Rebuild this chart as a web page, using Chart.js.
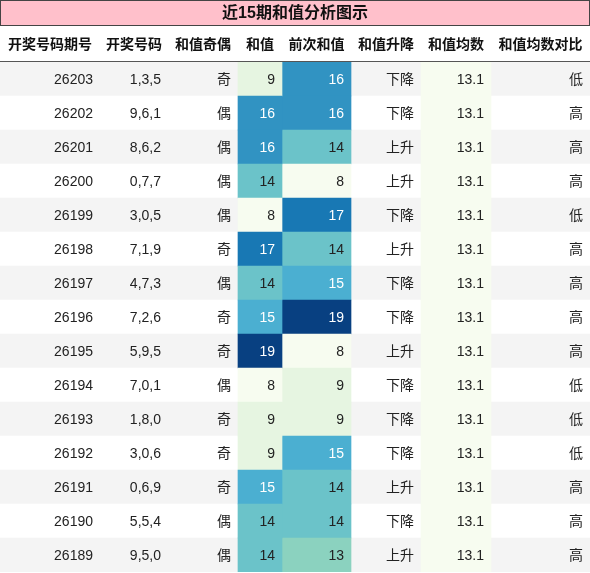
<!DOCTYPE html>
<html><head><meta charset="utf-8">
<script src="https://cdn.jsdelivr.net/npm/chart.js@4"></script>
<style>html,body{margin:0;padding:0;background:#fff}#w{width:590px;height:573px}</style>
</head><body><div id="w"><canvas id="c"></canvas></div>
<script>
const title = '近15期和值分析图示';
const headers = ['开奖号码期号','开奖号码','和值奇偶','和值','前次和值','和值升降','和值均数','和值均数对比'];
const issues = ['26203','26202','26201','26200','26199','26198','26197','26196','26195','26194','26193','26192','26191','26190','26189'];
const numbers = ['1,3,5','9,6,1','8,6,2','0,7,7','3,0,5','7,1,9','4,7,3','7,2,6','5,9,5','7,0,1','1,8,0','3,0,6','0,6,9','5,5,4','9,5,0'];
const parity = ['奇','偶','偶','偶','偶','奇','偶','奇','奇','偶','奇','奇','奇','偶','偶'];
const sums = [9,16,16,14,8,17,14,15,19,8,9,9,15,14,14];
const prevSums = [16,16,14,8,17,14,15,19,8,9,9,15,14,14,13];
const trend = ['下降','下降','上升','上升','下降','上升','下降','下降','上升','下降','下降','下降','上升','下降','上升'];
const means = [13.1,13.1,13.1,13.1,13.1,13.1,13.1,13.1,13.1,13.1,13.1,13.1,13.1,13.1,13.1];
const compare = ['低','高','高','高','低','高','高','高','高','低','低','低','高','高','高'];

const edges = [0,100,168,238,282,351,421,491,590];
const FONT = '"Liberation Sans","Noto Sans CJK SC",sans-serif';
const gnbu = ['#f7fcf0','#e0f3db','#ccebc5','#a8ddb5','#7bccc4','#4eb3d3','#2b8cbe','#0868ac','#084081'];
function hex(h){return [1,3,5].map(i=>parseInt(h.substr(i,2),16));}
function cmap(t){t=Math.max(0,Math.min(1,t))*8;const i=Math.min(7,Math.floor(t)),f=t-i;const a=hex(gnbu[i]),b=hex(gnbu[i+1]);return 'rgb('+a.map((v,k)=>Math.round(v+(b[k]-v)*f)).join(',')+')';}
const all=sums.concat(prevSums);const mn=Math.min(...all),mx=Math.max(...all);
const norm=v=>(v-mn)/(mx-mn);
const white=new Array(15).fill('rgba(0,0,0,0)');
const cols=[issues,numbers,parity,sums,prevSums,trend,means.map(v=>v.toFixed(1)),compare];
const colBg=[white,white,white,sums.map(v=>cmap(norm(v))),prevSums.map(v=>cmap(norm(v))),white,means.map(()=>cmap(0)),white];
const colFg=[null,null,null,sums.map(v=>norm(v)>0.6?'#fff':'#222'),prevSums.map(v=>norm(v)>0.6?'#fff':'#222'),null,null,null];

const datasets=[{data:issues.map(()=>[0,590]),backgroundColor:issues.map((_,i)=>i%2===0?'#f4f4f4':'#ffffff'),order:10}];
for(let c=0;c<8;c++){datasets.push({data:issues.map(()=>[edges[c],edges[c+1]]),backgroundColor:colBg[c],order:1});}

const textPlugin={id:'tbl',afterDatasetsDraw(ch){
 const ctx=ch.ctx,x=ch.scales.x,meta=ch.getDatasetMeta(0);
 ctx.save();
 ctx.fillStyle='#ffc0cb';ctx.fillRect(0.5,0.5,589,25);ctx.strokeStyle='#444';ctx.lineWidth=1;ctx.strokeRect(0.5,0.5,589,25);
 ctx.fillStyle='#111';ctx.font='bold 16px '+FONT;ctx.textAlign='center';ctx.textBaseline='middle';ctx.fillText(title,295,14);
 ctx.font='bold 14px '+FONT;
 for(let c=0;c<8;c++){ctx.fillText(headers[c],(x.getPixelForValue(edges[c])+x.getPixelForValue(edges[c+1]))/2,45);}
 ctx.beginPath();ctx.moveTo(0,61.5);ctx.lineTo(590,61.5);ctx.strokeStyle='#555';ctx.stroke();
 ctx.font='14px '+FONT;ctx.textAlign='right';
 for(let c=0;c<8;c++){const xr=x.getPixelForValue(edges[c+1])-7;
  for(let r=0;r<15;r++){ctx.fillStyle=colFg[c]?colFg[c][r]:'#222';ctx.fillText(String(cols[c][r]),xr,meta.data[r].y+1);}}
 ctx.restore();}};

new Chart(document.getElementById('c'),{type:'bar',data:{labels:issues,datasets},
 options:{indexAxis:'y',responsive:true,maintainAspectRatio:false,animation:false,
  grouped:false,categoryPercentage:1,barPercentage:1,
  layout:{padding:{top:62,bottom:1,left:0,right:0}},
  plugins:{legend:{display:false},tooltip:{enabled:false}},
  datasets:{bar:{grouped:false,categoryPercentage:1,barPercentage:1,borderWidth:0}},
  scales:{x:{type:'linear',min:0,max:590,display:false},y:{display:false}}},
 plugins:[textPlugin]});
</script></body></html>
